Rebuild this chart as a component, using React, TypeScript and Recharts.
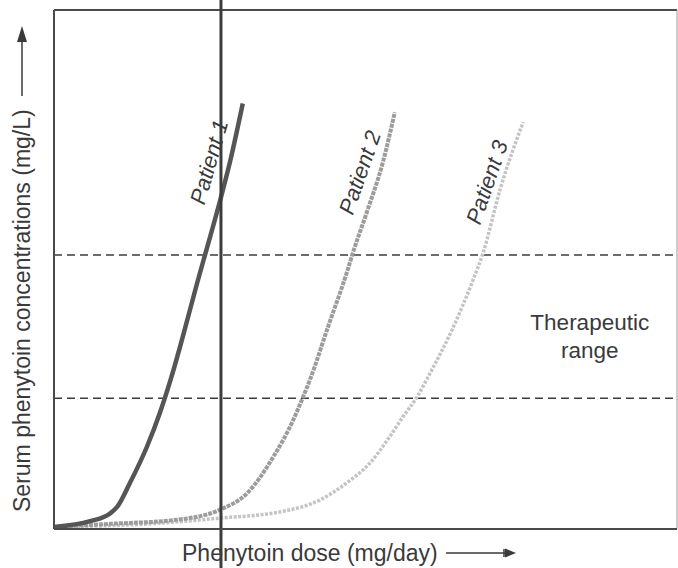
import React from 'react';
import { LineChart, Line, XAxis, YAxis, ReferenceLine, ReferenceDot } from 'recharts';

// Phenytoin dose (arbitrary units, 0-100) and serum concentration (arbitrary units, 0-100)
const patient1Dose = [0, 5.8, 9, 10.1, 12.2, 14.9, 17, 18.9, 21, 23, 24.4, 26.6, 28.3, 30.3];
const patient1Conc = [0.4, 1.5, 3, 4.2, 8.9, 15.8, 22.4, 29.5, 38.5, 47.5, 53.5, 63, 71, 82];

const patient2Dose = [0, 9, 19.1, 26.6, 31, 35.2, 38.4, 40, 41.1, 44, 47, 48, 50.2, 52.8, 54.7];
const patient2Conc = [0.4, 1, 1.7, 3.7, 6.9, 13.9, 21, 25.5, 28.8, 39, 49.4, 53.3, 61, 70.7, 80.3];

const patient3Dose = [0, 15.4, 26.6, 36.3, 42.7, 47, 50.7, 53.9, 56, 58.3, 60.4, 63.9, 67.3, 68.9, 71.6, 75.3];
const patient3Conc = [0.4, 1, 2.1, 3.3, 5.6, 8.9, 12.7, 17.8, 21.6, 25.5, 30.1, 38.4, 48.1, 53.3, 65.4, 78.4];

const therapeuticLow = 25.2;
const therapeuticHigh = 52.8;
const markedDose = 26.8;

const patientNames = ['Patient 1', 'Patient 2', 'Patient 3'];
const patientLabelDose = [24.9, 49.1, 69.5];
const patientLabelConc = [70.7, 68.7, 66.8];
const patientLabelAngle = [-74, -71, -71];

const xTitle = 'Phenytoin dose (mg/day)';
const yTitle = 'Serum phenytoin concentrations (mg/L)';
const rangeLines = ['Therapeutic', 'range'];

const zip = (xs: number[], ys: number[]) => xs.map((x, i) => ({ x, y: ys[i] }));
const p1 = zip(patient1Dose, patient1Conc);
const p2 = zip(patient2Dose, patient2Conc);
const p3 = zip(patient3Dose, patient3Conc);

const FONT = '"Liberation Sans", Arial, Helvetica, sans-serif';
const TEXT = '#3a3a3a';

const XTitle = (props: any) => {
  const vb = props.viewBox || { x: 54, y: 529, width: 623, height: 39 };
  const left = vb.x + 128;
  const base = vb.y + 32;
  const ay = vb.y + 24;
  return (
    <g>
      <text x={left} y={base} textAnchor="start" fontFamily={FONT} fontSize={23} fill={TEXT}>
        {xTitle}
      </text>
      <line x1={vb.x + 392} y1={ay} x2={vb.x + 452} y2={ay} stroke={TEXT} strokeWidth={1.5} />
      <line x1={vb.x + 450} y1={ay - 4} x2={vb.x + 450} y2={ay + 4} stroke={TEXT} strokeWidth={1.5} />
      <polygon points={`${vb.x + 451},${ay - 4.5} ${vb.x + 462},${ay} ${vb.x + 451},${ay + 4.5}`} fill={TEXT} />
    </g>
  );
};

const YTitle = (props: any) => {
  const vb = props.viewBox || { x: 0, y: 10, width: 54, height: 519 };
  const cx = vb.x + 22;
  const bottom = vb.y + 502;
  return (
    <g>
      <text
        x={cx}
        y={bottom}
        transform={`rotate(-90, ${cx}, ${bottom})`}
        textAnchor="start"
        dominantBaseline="central"
        fontFamily={FONT}
        fontSize={23}
        fill={TEXT}
      >
        {yTitle}
      </text>
      <line x1={cx} y1={vb.y + 86} x2={cx} y2={vb.y + 30} stroke={TEXT} strokeWidth={1.5} />
      <polygon points={`${cx - 5},${vb.y + 32} ${cx},${vb.y + 16} ${cx + 5},${vb.y + 32}`} fill={TEXT} />
    </g>
  );
};

const makePatientLabel = (name: string, angle: number) => (props: any) => {
  const vb = props.viewBox || { x: 0, y: 0 };
  const cx = vb.x + (vb.width || 0) / 2;
  const cy = vb.y + (vb.height || 0) / 2;
  return (
    <text
      x={cx}
      y={cy}
      transform={`rotate(${angle}, ${cx}, ${cy})`}
      textAnchor="middle"
      dominantBaseline="central"
      fontFamily={FONT}
      fontStyle="italic"
      fontSize={22}
      fill={TEXT}
    >
      {name}
    </text>
  );
};

const RangeLabel = (props: any) => {
  const vb = props.viewBox || { x: 0, y: 0 };
  const cx = vb.x + (vb.width || 0) / 2;
  const cy = vb.y + (vb.height || 0) / 2;
  return (
    <text textAnchor="middle" fontFamily={FONT} fontSize={22.5} fill={TEXT}>
      <tspan x={cx} y={cy - 6}>{rangeLines[0]}</tspan>
      <tspan x={cx} y={cy + 22}>{rangeLines[1]}</tspan>
    </text>
  );
};

const ExtendedVLine = (props: any) => {
  const x = props.x1 ?? props.x2 ?? 0;
  return <line x1={x} y1={0} x2={x} y2={568} stroke="#3c3c3c" strokeWidth={3} />;
};

export default function App() {
  return (
    <div style={{ position: 'absolute', left: 0, top: 0, width: 678, height: 568, background: '#fff' }}>
      <LineChart width={678} height={568} margin={{ top: 10, right: 1, left: 0, bottom: 0 }}>
        <XAxis
          type="number"
          dataKey="x"
          domain={[0, 100]}
          ticks={[]}
          tick={false}
          tickLine={false}
          axisLine={{ stroke: '#4a4a4a', strokeWidth: 2 }}
          height={39}
          label={<XTitle />}
        />
        <YAxis
          type="number"
          dataKey="y"
          domain={[0, 100]}
          ticks={[]}
          tick={false}
          tickLine={false}
          axisLine={{ stroke: '#4a4a4a', strokeWidth: 2 }}
          width={54}
          label={<YTitle />}
        />
        <ReferenceLine y={100} stroke="#4a4a4a" strokeWidth={2} />
        <ReferenceLine x={100} stroke="#9a9a9a" strokeWidth={1} />
        <ReferenceLine y={therapeuticHigh} stroke="#3c3c3c" strokeWidth={1.5} strokeDasharray="8 5" />
        <ReferenceLine y={therapeuticLow} stroke="#3c3c3c" strokeWidth={1.5} strokeDasharray="8 5" />
        <Line
          data={p3}
          dataKey="y"
          type="monotone"
          stroke="#c4c4c4"
          strokeWidth={3.5}
          strokeDasharray="3 1.5"
          dot={false}
          isAnimationActive={false}
        />
        <Line
          data={p2}
          dataKey="y"
          type="monotone"
          stroke="#9c9c9c"
          strokeWidth={4}
          strokeDasharray="4 1"
          dot={false}
          isAnimationActive={false}
        />
        <Line
          data={p1}
          dataKey="y"
          type="monotone"
          stroke="#555555"
          strokeWidth={4.5}
          dot={false}
          isAnimationActive={false}
        />
        <ReferenceLine x={markedDose} stroke="#3c3c3c" strokeWidth={3} shape={ExtendedVLine} />
        {patientNames.map((n, i) => (
          <ReferenceDot
            key={n}
            x={patientLabelDose[i]}
            y={patientLabelConc[i]}
            r={0}
            fill="none"
            stroke="none"
            label={makePatientLabel(n, patientLabelAngle[i])}
          />
        ))}
        <ReferenceDot x={86} y={37.2} r={0} fill="none" stroke="none" label={RangeLabel} />
      </LineChart>
    </div>
  );
}
